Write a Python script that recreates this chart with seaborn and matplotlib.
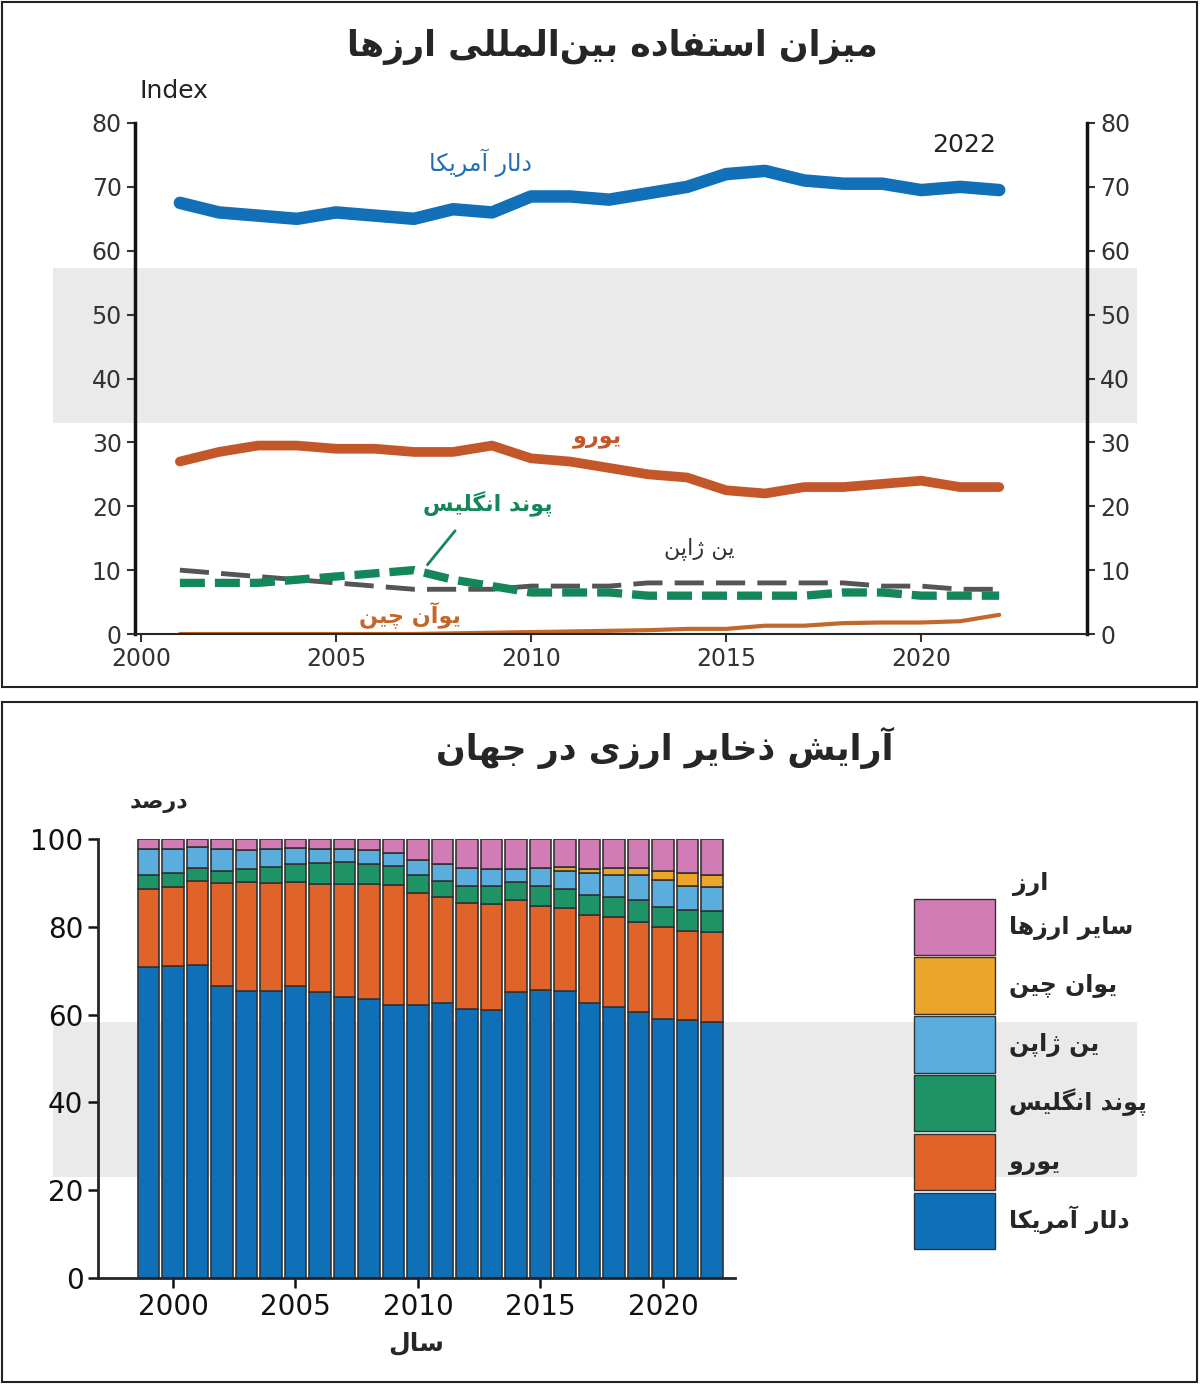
import numpy as np
import pandas as pd
import seaborn as sns
import matplotlib
matplotlib.use("Agg")
import matplotlib.pyplot as plt
from matplotlib.patches import Rectangle, Patch

# ---------------- data ----------------
line_years = list(range(2001, 2023))
usd_idx = [67.5, 66, 65.5, 65, 66, 65.5, 65, 66.5, 66, 68.5, 68.5, 68, 69, 70, 72, 72.5, 71, 70.5, 70.5, 69.5, 70, 69.5]
eur_idx = [27, 28.5, 29.5, 29.5, 29, 29, 28.5, 28.5, 29.5, 27.5, 27, 26, 25, 24.5, 22.5, 22, 23, 23, 23.5, 24, 23, 23]
gbp_idx = [8, 8, 8, 8.5, 9, 9.5, 10, 8.5, 7.5, 6.5, 6.5, 6.5, 6, 6, 6, 6, 6, 6.5, 6.5, 6, 6, 6]
jpy_idx = [10, 9.5, 9, 8.5, 8, 7.5, 7, 7, 7, 7.5, 7.5, 7.5, 8, 8, 8, 8, 8, 8, 7.5, 7.5, 7, 7]
cny_idx = [0, 0, 0, 0, 0, 0, 0, 0.1, 0.2, 0.3, 0.4, 0.5, 0.6, 0.8, 0.8, 1.3, 1.3, 1.7, 1.8, 1.8, 2.0, 3.0]

bar_years = list(range(1999, 2023))
usd_share = [70.8, 71.0, 71.4, 66.6, 65.3, 65.3, 66.5, 65.1, 64.0, 63.6, 62.1, 62.3, 62.7, 61.3, 61.1, 65.1, 65.5, 65.3, 62.7, 61.7, 60.7, 58.9, 58.8, 58.4]
eur_share = [17.8, 18.0, 19.0, 23.3, 24.8, 24.6, 23.6, 24.7, 25.8, 26.2, 27.4, 25.3, 24.2, 24.1, 24.1, 21.1, 19.2, 18.9, 20.1, 20.5, 20.3, 21.0, 20.3, 20.4]
gbp_share = [3.1, 3.2, 2.9, 2.9, 3.1, 3.7, 4.2, 4.7, 4.9, 4.4, 4.4, 4.2, 3.5, 4.0, 4.0, 3.9, 4.7, 4.4, 4.5, 4.5, 5.0, 4.7, 4.7, 4.7]
jpy_share = [6.0, 5.5, 4.8, 4.9, 4.3, 4.1, 3.6, 3.2, 3.0, 3.3, 2.9, 3.4, 3.9, 4.0, 4.0, 3.1, 3.9, 4.2, 4.9, 5.2, 5.7, 6.1, 5.6, 5.5]
cny_share = [0, 0, 0, 0, 0, 0, 0, 0, 0, 0, 0, 0, 0, 0, 0, 0, 0, 0.9, 1.0, 1.6, 1.7, 2.1, 2.8, 2.7]
other_share = [round(100 - a - b - c - d - e, 1) for a, b, c, d, e in zip(usd_share, eur_share, gbp_share, jpy_share, cny_share)]

# ---------------- minimal Persian shaping ----------------
FORMS = {
    'ا': ('\uFE8D', '\uFE8E', None, None), 'آ': ('\uFE81', '\uFE82', None, None),
    'ب': ('\uFE8F', '\uFE90', '\uFE91', '\uFE92'), 'پ': ('\uFB56', '\uFB57', '\uFB58', '\uFB59'),
    'ت': ('\uFE95', '\uFE96', '\uFE97', '\uFE98'), 'ج': ('\uFE9D', '\uFE9E', '\uFE9F', '\uFEA0'),
    'چ': ('\uFB7A', '\uFB7B', '\uFB7C', '\uFB7D'), 'خ': ('\uFEA5', '\uFEA6', '\uFEA7', '\uFEA8'),
    'د': ('\uFEA9', '\uFEAA', None, None), 'ذ': ('\uFEAB', '\uFEAC', None, None),
    'ر': ('\uFEAD', '\uFEAE', None, None), 'ز': ('\uFEAF', '\uFEB0', None, None),
    'ژ': ('\uFB8A', '\uFB8B', None, None), 'س': ('\uFEB1', '\uFEB2', '\uFEB3', '\uFEB4'),
    'ش': ('\uFEB5', '\uFEB6', '\uFEB7', '\uFEB8'), 'ص': ('\uFEB9', '\uFEBA', '\uFEBB', '\uFEBC'),
    'ف': ('\uFED1', '\uFED2', '\uFED3', '\uFED4'), 'ک': ('\uFB8E', '\uFB8F', '\uFB90', '\uFB91'),
    'گ': ('\uFB92', '\uFB93', '\uFB94', '\uFB95'), 'ل': ('\uFEDD', '\uFEDE', '\uFEDF', '\uFEE0'),
    'م': ('\uFEE1', '\uFEE2', '\uFEE3', '\uFEE4'), 'ن': ('\uFEE5', '\uFEE6', '\uFEE7', '\uFEE8'),
    'ه': ('\uFEE9', '\uFEEA', '\uFEEB', '\uFEEC'), 'و': ('\uFEED', '\uFEEE', None, None),
    'ی': ('\uFBFC', '\uFBFD', '\uFBFE', '\uFBFF'),
}

def fa(s):
    out = []
    n = len(s)
    for i, ch in enumerate(s):
        if ch == '\u200c':
            continue
        if ch not in FORMS:
            out.append(ch)
            continue
        f = FORMS[ch]
        prev = s[i - 1] if i > 0 else None
        nxt = s[i + 1] if i + 1 < n else None
        jp = prev in FORMS and FORMS[prev][2] is not None
        jn = f[2] is not None and nxt in FORMS
        if jp and jn:
            out.append(f[3])
        elif jp:
            out.append(f[1])
        elif jn:
            out.append(f[2])
        else:
            out.append(f[0])
    return ''.join(out[::-1])

# ---------------- figure ----------------
sns.set_theme(style="ticks")
plt.rcParams['font.family'] = 'DejaVu Sans'
W, H = 1200, 1389
fig = plt.figure(figsize=(12, 13.89), dpi=100)
fig.patch.set_facecolor('white')

for (x0, y0, x1, y1) in [(2, 2, 1197, 687), (2, 702, 1197, 1382)]:
    fig.add_artist(Rectangle((x0 / W, 1 - y1 / H), (x1 - x0) / W, (y1 - y0) / H,
                             transform=fig.transFigure, fill=False, ec='#222', lw=1.5))
# watermark-like grey bands
for (x0, y0, x1, y1) in [(53, 268, 1137, 423), (53, 1022, 1137, 1177)]:
    fig.add_artist(Rectangle((x0 / W, 1 - y1 / H), (x1 - x0) / W, (y1 - y0) / H,
                             transform=fig.transFigure, fc='#dcdcdc', ec='none', alpha=0.6, zorder=0))

# ---- top chart ----
ax1 = fig.add_axes([135 / W, 1 - 634 / H, (1087 - 135) / W, 511 / H])
ax1.patch.set_alpha(0)
df = pd.DataFrame({'year': line_years, 'usd': usd_idx, 'eur': eur_idx, 'gbp': gbp_idx, 'jpy': jpy_idx, 'cny': cny_idx})
sns.lineplot(data=df, x='year', y='usd', ax=ax1, color='#1170b8', lw=9)
sns.lineplot(data=df, x='year', y='eur', ax=ax1, color='#c4572a', lw=7)
sns.lineplot(data=df, x='year', y='jpy', ax=ax1, color='#555555', lw=3.5, dashes=(6, 2.5))
sns.lineplot(data=df, x='year', y='gbp', ax=ax1, color='#14875a', lw=6, dashes=(3, 1.2))
sns.lineplot(data=df, x='year', y='cny', ax=ax1, color='#c4672a', lw=3)
ax1.set_xlim(1999.85, 2024.25)
ax1.set_ylim(0, 80)
ax1.set_xticks([2000, 2005, 2010, 2015, 2020])
ax1.set_yticks(range(0, 90, 10))
ax1.set_xlabel('')
ax1.set_ylabel('')
ax1.tick_params(labelsize=17, colors='#333', length=6, width=1.5, labelcolor='#333')
ax1.tick_params(axis='y', right=True, labelright=True)
for sp in ['left', 'right']:
    ax1.spines[sp].set_visible(True)
    ax1.spines[sp].set_linewidth(2.5)
    ax1.spines[sp].set_color('#111')
ax1.spines['bottom'].set_linewidth(1.5)
ax1.spines['top'].set_visible(False)
ax1.text(0.005, 1.04, 'Index', transform=ax1.transAxes, fontsize=18, ha='left', va='bottom', color='#222')
ax1.text(2021.1, 75.5, '2022', fontsize=18, color='#222', ha='center')
ax1.text(2008.7, 72.5, fa('دلار آمریکا'), color='#1f6db5', fontsize=17, ha='center')
ax1.text(2011.7, 30, fa('یورو'), color='#c4572a', fontsize=16, ha='center', fontweight='bold')
ax1.text(2008.9, 19.3, fa('پوند انگلیس'), color='#14875a', fontsize=16, ha='center', fontweight='bold')
ax1.annotate('', xy=(2007.3, 10.5), xytext=(2008.1, 16.5), arrowprops=dict(arrowstyle='-', color='#14875a', lw=2))
ax1.text(2014.3, 12.5, fa('ین ژاپن'), color='#333', fontsize=16, ha='center')
ax1.text(2006.9, 1.8, fa('یوآن چین'), color='#c4672a', fontsize=16, ha='center', fontweight='bold')
fig.text(612 / W, 1 - 47 / H, fa('میزان استفاده بین\u200cالمللی ارزها'), fontsize=25, fontweight='bold', ha='center', va='center')

# ---- bottom chart ----
ax2 = fig.add_axes([98 / W, 1 - 1278 / H, (735 - 98) / W, 439 / H])
ax2.patch.set_alpha(0)
cols = ['#0f70b7', '#e0632a', '#1e9466', '#5aaddc', '#eba52a', '#d27cb6']
names = ['دلار آمریکا', 'یورو', 'پوند انگلیس', 'ین ژاپن', 'یوان چین', 'سایر ارزها']
series = [usd_share, eur_share, gbp_share, jpy_share, cny_share, other_share]
bottom = np.zeros(len(bar_years))
for vals, c in zip(series, cols):
    ax2.bar(bar_years, vals, bottom=bottom, width=0.88, color=c, edgecolor='#333', lw=1.2)
    bottom += np.array(vals)
ax2.set_xlim(1996.94, 2022.94)
ax2.set_ylim(0, 100)
ax2.set_xticks([2000, 2005, 2010, 2015, 2020])
ax2.set_yticks(range(0, 101, 20))
ax2.tick_params(labelsize=20, colors='#111', length=7, width=1.8)
sns.despine(ax=ax2)
ax2.spines['left'].set_linewidth(2)
ax2.spines['bottom'].set_linewidth(2)
ax2.set_xlabel(fa('سال'), fontsize=18, labelpad=8, fontweight='bold')
ax2.text(0.05, 1.06, fa('درصد'), transform=ax2.transAxes, fontsize=16, ha='left', va='bottom', fontweight='bold')
fig.text(665 / W, 1 - 748 / H, fa('آرایش ذخایر ارزی در جهان'), fontsize=25, fontweight='bold', ha='center', va='center')

handles = [Patch(fc=c, ec='#333', label=fa(n)) for c, n in zip(cols, names)][::-1]
leg = fig.legend(handles=handles, loc='upper left', bbox_to_anchor=(893 / W, 1 - 850 / H),
                 title=fa('ارز'), title_fontsize=17,
                 prop={'size': 17, 'weight': 'bold'}, frameon=False,
                 handlelength=3.4, handleheight=3.3, labelspacing=0.1, handletextpad=0.6)
leg.get_title().set_fontweight('bold')
leg._legend_box.align = 'center'

fig.savefig('out.png', dpi=100, facecolor='white')
